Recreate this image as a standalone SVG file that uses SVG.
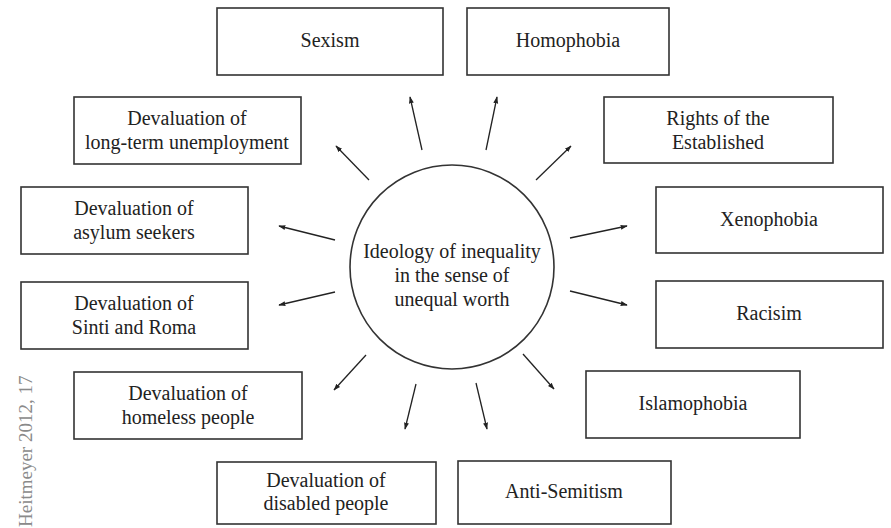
<svg xmlns="http://www.w3.org/2000/svg" width="891" height="528" viewBox="0 0 891 528">
<defs>
<style>
.box{fill:#fff;stroke:#333;stroke-width:1.6}
.t{font-family:'Liberation Serif','Times New Roman',serif;font-size:20px;fill:#222;text-anchor:middle}
.c{stroke:#222;stroke-width:1.3;fill:none;marker-end:url(#ah)}
</style>
<marker id="ah" viewBox="0 0 10 10" refX="9" refY="5" markerWidth="7" markerHeight="7" markerUnits="userSpaceOnUse" orient="auto">
<path d="M0,1.5 L10,5 L0,8.5 z" fill="#222"/>
</marker>
</defs>
<rect width="891" height="528" fill="#fff"/>
<g id="center">
<circle cx="452" cy="267" r="102" fill="#fff" stroke="#333" stroke-width="1.6"/>
<text class="t" x="452" y="258">Ideology of inequality</text>
<text class="t" x="452" y="282">in the sense of</text>
<text class="t" x="452" y="306">unequal worth</text>
</g>
<g id="sexism"><rect class="box" x="217" y="8" width="226" height="67"/><text class="t" x="330" y="47">Sexism</text></g>
<g id="homophobia"><rect class="box" x="467" y="8" width="202" height="67"/><text class="t" x="568" y="47">Homophobia</text></g>
<g id="longterm"><rect class="box" x="74" y="97" width="227" height="67"/><text class="t" x="187" y="125">Devaluation of</text><text class="t" x="187" y="149">long-term unemployment</text></g>
<g id="asylum"><rect class="box" x="21" y="187" width="227" height="67"/><text class="t" x="134" y="215">Devaluation of</text><text class="t" x="134" y="239">asylum seekers</text></g>
<g id="sinti"><rect class="box" x="21" y="282" width="227" height="67"/><text class="t" x="134" y="310">Devaluation of</text><text class="t" x="134" y="334">Sinti and Roma</text></g>
<g id="homeless"><rect class="box" x="74" y="372" width="228" height="67"/><text class="t" x="188" y="400">Devaluation of</text><text class="t" x="188" y="424">homeless people</text></g>
<g id="disabled"><rect class="box" x="217" y="462" width="219" height="62"/><text class="t" x="326" y="487">Devaluation of</text><text class="t" x="326" y="510">disabled people</text></g>
<g id="antisemitism"><rect class="box" x="458" y="461" width="213" height="63"/><text class="t" x="564" y="498">Anti-Semitism</text></g>
<g id="islamophobia"><rect class="box" x="586" y="371" width="214" height="67"/><text class="t" x="693" y="410">Islamophobia</text></g>
<g id="racisim"><rect class="box" x="656" y="281" width="227" height="67"/><text class="t" x="769" y="320">Racisim</text></g>
<g id="xenophobia"><rect class="box" x="656" y="187" width="227" height="66"/><text class="t" x="769" y="226">Xenophobia</text></g>
<g id="rights"><rect class="box" x="604" y="97" width="229" height="66"/><text class="t" x="718" y="125">Rights of the</text><text class="t" x="718" y="149">Established</text></g>
<g id="connectors">
<line class="c" x1="422" y1="150" x2="410" y2="97"/>
<line class="c" x1="486" y1="150" x2="497" y2="97"/>
<line class="c" x1="369" y1="180" x2="336" y2="146"/>
<line class="c" x1="335" y1="240" x2="279" y2="226"/>
<line class="c" x1="335" y1="292" x2="279" y2="305"/>
<line class="c" x1="366" y1="355" x2="334" y2="390"/>
<line class="c" x1="416" y1="384" x2="405" y2="429"/>
<line class="c" x1="476" y1="383" x2="487" y2="429"/>
<line class="c" x1="523" y1="354" x2="554" y2="389"/>
<line class="c" x1="570" y1="291" x2="627" y2="305"/>
<line class="c" x1="570" y1="238" x2="627" y2="226"/>
<line class="c" x1="536" y1="180" x2="571" y2="146"/>
</g>
<text x="32" y="527" transform="rotate(-90 32 527)" style="font-family:'Liberation Serif','Times New Roman',serif;font-size:19px;fill:#8a8a8a">Heitmeyer 2012, 17</text>
</svg>
